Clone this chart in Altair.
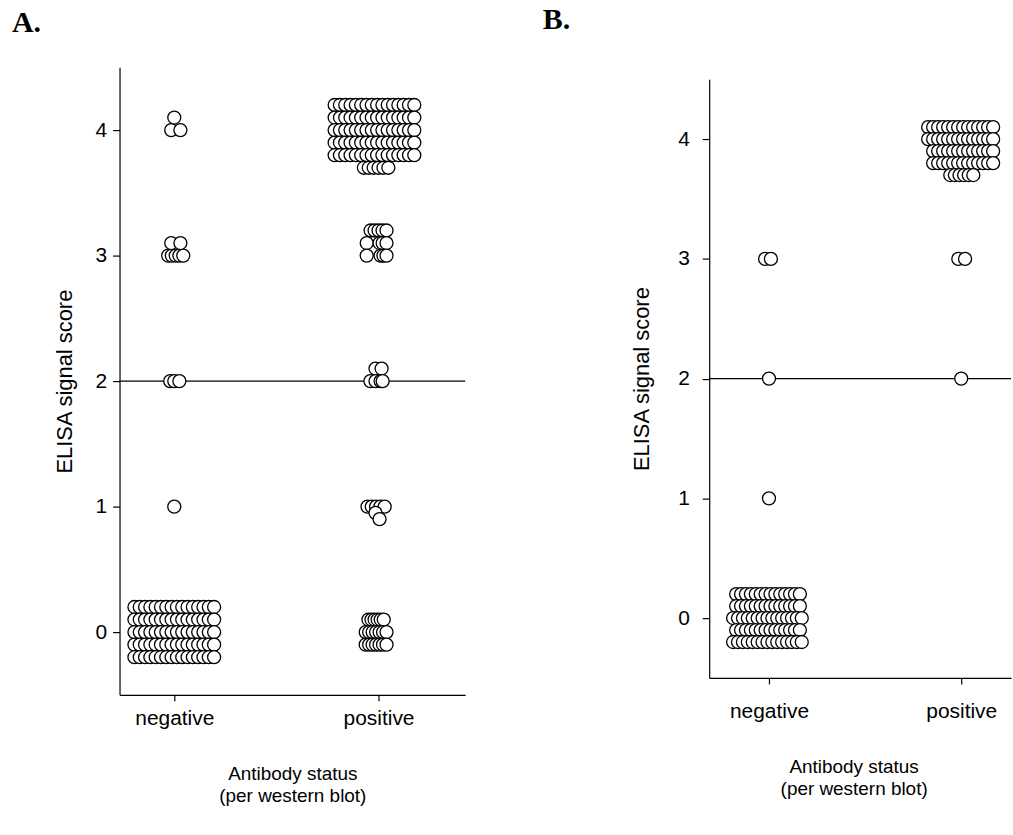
import altair as alt
import pandas as pd

# ---------------- data (x jitter in category units, category 0=negative, 1=positive)
# Panel A : big stacked rows -> (y, count, step, centre)
A_neg_rows = [(0.2, 16, 0.026, 0.0), (0.1, 16, 0.026, 0.0), (0.0, 16, 0.026, 0.0),
              (-0.1, 16, 0.026, 0.0), (-0.2, 16, 0.026, 0.0)]
A_neg_pts = [(1.0, [0.0]), (2.0, [-0.02, 0.0, 0.025]), (3.0, [-0.03, -0.012, 0.007, 0.025, 0.044]),
             (3.1, [-0.015, 0.03]), (4.0, [-0.015, 0.03]), (4.1, [0.0])]
A_pos_rows = [(4.2, 16, 0.026, -0.02), (4.1, 16, 0.026, -0.02), (4.0, 16, 0.026, -0.02),
              (3.9, 16, 0.026, -0.02), (3.8, 16, 0.026, -0.02), (3.7, 6, 0.024, -0.012),
              (3.2, 5, 0.0195, 0.0), (1.0, 5, 0.021, -0.012), (0.1, 6, 0.015, -0.012),
              (0.0, 7, 0.017, -0.012), (-0.1, 7, 0.017, -0.012)]
A_pos_pts = [(3.1, [-0.058, 0.005, 0.02, 0.039]), (3.0, [-0.058, 0.01, 0.024, 0.039]),
             (2.1, [-0.015, 0.015]), (2.0, [-0.04, -0.015, 0.01, 0.02]),
             (0.95, [-0.015]), (0.9, [0.005])]

# Panel B
B_neg_rows = [(0.2, 14, 0.0255, -0.005), (0.1, 14, 0.0255, -0.005), (0.0, 15, 0.0255, -0.008),
              (-0.1, 14, 0.0255, -0.005), (-0.2, 15, 0.0255, -0.008)]
B_neg_pts = [(1.0, [0.0]), (2.0, [0.0]), (3.0, [-0.02, 0.01])]
B_pos_rows = [(4.1, 14, 0.026, -0.003), (4.0, 14, 0.026, -0.003), (3.9, 13, 0.026, 0.01),
              (3.8, 13, 0.026, 0.01), (3.7, 6, 0.024, 0.003)]
B_pos_pts = [(3.0, [-0.015, 0.02]), (2.0, [0.0])]

categories = ["negative", "positive"]
y_ticks = [0, 1, 2, 3, 4]
threshold = [2]


def build(neg_rows, neg_pts, pos_rows, pos_pts):
    recs = []
    for cat, rows, pts in ((0, neg_rows, neg_pts), (1, pos_rows, pos_pts)):
        for y, n, step, c in rows:
            for i in range(n):
                recs.append({"x": cat + c + (i - (n - 1) / 2) * step, "y": y})
        for y, offs in pts:
            for o in offs:
                recs.append({"x": cat + o, "y": y})
    return pd.DataFrame(recs)


dfA = build(A_neg_rows, A_neg_pts, A_pos_rows, A_pos_pts)
dfB = build(B_neg_rows, B_neg_pts, B_pos_rows, B_pos_pts)
rule_df = pd.DataFrame({"y": threshold})

FONT = "Liberation Sans"
LFS = 21   # tick labels
YTFS = 22  # y title
XTFS = 19  # x title
label_expr = "datum.value == 0 ? '%s' : '%s'" % (categories[0], categories[1])


def panel(df, xdom, w, h, ypad, xpad, title_x=None):
    xkw = dict(values=[0, 1], labelExpr=label_expr, grid=False, domainColor="black",
               tickColor="black", tickSize=6, domainWidth=1.2, tickWidth=1.2,
               labelFont=FONT, labelFontSize=LFS, labelColor="black", labelPadding=xpad[0],
               title=["Antibody status", "(per western blot)"], titleFont=FONT,
               titleFontSize=XTFS, titleFontWeight="normal", titleColor="black",
               titlePadding=xpad[1], titleLineHeight=22)
    if title_x is not None:
        xkw["titleX"] = title_x
    xaxis = alt.Axis(**xkw)
    yaxis = alt.Axis(values=y_ticks, format="d", grid=False, domainColor="black", tickColor="black",
                     tickSize=7, domainWidth=1.2, tickWidth=1.2, labelFont=FONT,
                     labelFontSize=LFS, labelColor="black", labelPadding=ypad[0],
                     title="ELISA signal score", titleFont=FONT, titleFontSize=YTFS,
                     titleFontWeight="normal", titleColor="black", titlePadding=ypad[1])
    xs = alt.Scale(domain=xdom, nice=False, zero=False)
    ys = alt.Scale(domain=[-0.5, 4.5], nice=False, zero=False)
    pts = alt.Chart(df).mark_point(shape="circle", filled=True, fill="white", stroke="black",
                                   strokeWidth=1.3, size=170, opacity=1).encode(
        x=alt.X("x:Q", scale=xs, axis=xaxis),
        y=alt.Y("y:Q", scale=ys, axis=yaxis))
    rule = alt.Chart(rule_df).mark_rule(color="black", strokeWidth=1.2).encode(
        y=alt.Y("y:Q", scale=ys))
    return alt.layer(rule, pts).properties(width=w, height=h)


chartA = panel(dfA, [-0.268, 1.424], 347, 630, (6, 19), (7, 36)).properties(
    title=alt.TitleParams("A.", anchor="start", frame="group", dx=-108, offset=29,
                          font="Liberation Serif", fontSize=30, fontWeight="bold", color="black"))

spacer = alt.Chart(pd.DataFrame({"v": [0]})).mark_point(opacity=0).encode(
    x=alt.value(0), y=alt.value(0)).properties(width=303, height=10)
chartB = alt.vconcat(spacer, panel(dfB, [-0.311, 1.259], 303, 601, (13, 24), (17, 36), title_x=145),
                     spacing=0).properties(
    title=alt.TitleParams("B.", anchor="start", frame="group", dx=-167, offset=29,
                          font="Liberation Serif", fontSize=30, fontWeight="bold", color="black"))

chart = alt.hconcat(chartA, chartB, spacing=76).properties(
    padding={"left": 11, "top": 3, "right": 0, "bottom": 0}
).configure_view(stroke="transparent")

chart.save("out.html", embed_options={"renderer": "svg", "actions": False})
